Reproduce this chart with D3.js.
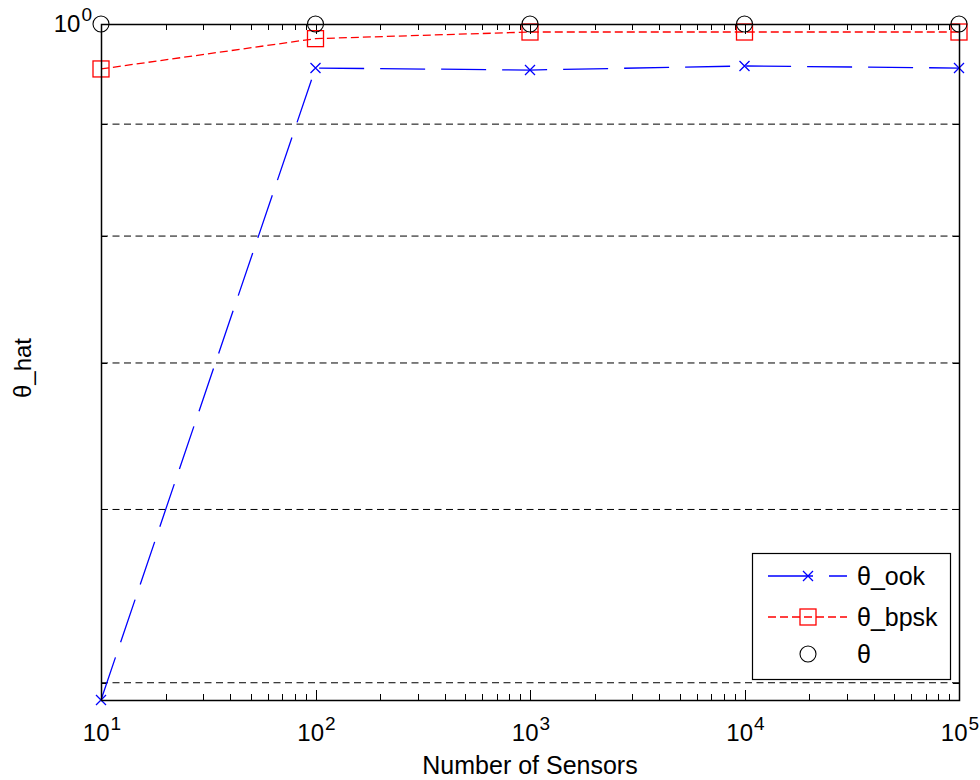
<!DOCTYPE html>
<html>
<head>
<meta charset="utf-8">
<script src="https://cdn.jsdelivr.net/npm/d3@7"></script>
<style>
  body { margin: 0; background: #fff; }
  text { font-family: "Liberation Sans", Arial, sans-serif; fill: #000; }
</style>
</head>
<body>
<div id="chart"></div>
<script>
// data
const sensors = [10, 100, 1000, 10000, 100000];
const thetaOok = [0.491, 0.9547, 0.9527, 0.9568, 0.9547];
const thetaBpsk = [0.9538, 0.9847, 0.9916, 0.9916, 0.9916];
const thetaTrue = [1, 1, 1, 1, 1];
const xTickExps = [1, 2, 3, 4, 5];
const yMinorTicks = [0.5, 0.6, 0.7, 0.8, 0.9];
const yMajorTicks = [1];
const legendNames = ["θ_ook", "θ_bpsk", "θ"];

const width = 980, height = 780;
const margin = { top: 24, right: 21, bottom: 80, left: 101 };

const svg = d3.select("#chart")
  .append("svg")
  .attr("width", width)
  .attr("height", height);

const x = d3.scaleLog()
  .domain([10, 100000])
  .range([margin.left, width - margin.right]);

const y = d3.scaleLog()
  .domain([0.491, 1])
  .range([height - margin.bottom, margin.top]);

const x0 = x.range()[0], x1 = x.range()[1];
const y0 = y.range()[0], y1 = y.range()[1];

// y minor grid (dashed)
svg.append("g")
  .selectAll("line")
  .data(yMinorTicks)
  .join("line")
  .attr("x1", x0).attr("x2", x1)
  .attr("y1", d => y(d)).attr("y2", d => y(d))
  .attr("stroke", "#000")
  .attr("stroke-width", 1)
  .attr("stroke-dasharray", "7,4.5");

// x ticks: decades and minor multiples, on bottom and top
const xMajor = xTickExps.map(e => Math.pow(10, e));
const xMinor = [];
xTickExps.slice(0, -1).forEach(e => {
  d3.range(2, 10).forEach(m => xMinor.push(m * Math.pow(10, e)));
});

const ticks = svg.append("g").attr("stroke", "#000").attr("stroke-width", 1);
[[xMajor, 10], [xMinor, 6]].forEach(([vals, len]) => {
  vals.forEach(v => {
    const px = Math.round(x(v)) + 0.5;
    ticks.append("line").attr("x1", px).attr("x2", px).attr("y1", y0).attr("y2", y0 - len);
    ticks.append("line").attr("x1", px).attr("x2", px).attr("y1", y1).attr("y2", y1 + len);
  });
});
yMinorTicks.forEach(v => {
  const py = Math.round(y(v)) + 0.5;
  ticks.append("line").attr("x1", x0).attr("x2", x0 + 6).attr("y1", py).attr("y2", py);
  ticks.append("line").attr("x1", x1).attr("x2", x1 - 6).attr("y1", py).attr("y2", py);
});

// x tick labels 10^n
xTickExps.forEach(e => {
  const t = svg.append("text")
    .attr("x", x(Math.pow(10, e)) + 1)
    .attr("y", 741)
    .attr("text-anchor", "middle")
    .style("font-size", "24px");
  t.append("tspan").text("10");
  t.append("tspan").attr("dy", -11).attr("dx", 1).style("font-size", "19px").text(e);
});

// y tick label 10^0
yMajorTicks.forEach(v => {
  const t = svg.append("text")
    .attr("x", x0 - 9)
    .attr("y", y(v) + 8)
    .attr("text-anchor", "end")
    .style("font-size", "24px");
  t.append("tspan").text("10");
  t.append("tspan").attr("dy", -11).attr("dx", 1).style("font-size", "19px").text(Math.round(Math.log10(v)));
});

// axis labels
svg.append("text")
  .attr("x", (x0 + x1) / 2)
  .attr("y", 774)
  .attr("text-anchor", "middle")
  .style("font-size", "25px")
  .text("Number of Sensors");

svg.append("text")
  .attr("transform", `translate(31, ${(y0 + y1) / 2 + 6}) rotate(-90)`)
  .attr("text-anchor", "middle")
  .style("font-size", "24px")
  .text("θ_hat");

// lines
const line = d3.line()
  .x(d => x(d[0]))
  .y(d => y(d[1]));

svg.append("path")
  .datum(d3.zip(sensors, thetaOok))
  .attr("fill", "none")
  .attr("stroke", "#0000ff")
  .attr("stroke-width", 1.3)
  .attr("stroke-dasharray", "45,16")
  .attr("d", line);

svg.append("path")
  .datum(d3.zip(sensors, thetaBpsk))
  .attr("fill", "none")
  .attr("stroke", "#ff0000")
  .attr("stroke-width", 1.3)
  .attr("stroke-dasharray", "8,4")
  .attr("d", line);

// marker helpers
function crossMarker(g, cx, cy) {
  const s = 5;
  g.append("path")
    .attr("d", `M${cx - s},${cy - s}L${cx + s},${cy + s}M${cx - s},${cy + s}L${cx + s},${cy - s}`)
    .attr("stroke", "#0000ff").attr("stroke-width", 1.3).attr("fill", "none");
}
function squareMarker(g, cx, cy) {
  g.append("rect")
    .attr("x", cx - 8).attr("y", cy - 8).attr("width", 16).attr("height", 16)
    .attr("stroke", "#ff0000").attr("stroke-width", 1.3).attr("fill", "none");
}
function circleMarker(g, cx, cy) {
  g.append("circle")
    .attr("cx", cx).attr("cy", cy).attr("r", 8)
    .attr("stroke", "#000").attr("stroke-width", 1.1).attr("fill", "none");
}

const marks = svg.append("g");
sensors.forEach((s, i) => {
  crossMarker(marks, x(s), y(thetaOok[i]));
  squareMarker(marks, x(s), y(thetaBpsk[i]));
  circleMarker(marks, x(s), y(thetaTrue[i]));
});

// axes box
svg.append("rect")
  .attr("x", x0 + 0.5).attr("y", y1 + 0.5)
  .attr("width", x1 - x0).attr("height", y0 - y1)
  .attr("fill", "none")
  .attr("stroke", "#000")
  .attr("stroke-width", 1.5);

// legend
const legend = svg.append("g");
legend.append("rect")
  .attr("x", 752.5).attr("y", 553.5)
  .attr("width", 198).attr("height", 126)
  .attr("fill", "#fff")
  .attr("stroke", "#000")
  .attr("stroke-width", 1.2);

const rowY = [576, 617, 654];
legend.append("line")
  .attr("x1", 768).attr("x2", 847).attr("y1", rowY[0]).attr("y2", rowY[0])
  .attr("stroke", "#0000ff").attr("stroke-width", 1.3).attr("stroke-dasharray", "45,16");
crossMarker(legend, 808, rowY[0]);
legend.append("line")
  .attr("x1", 768).attr("x2", 847).attr("y1", rowY[1]).attr("y2", rowY[1])
  .attr("stroke", "#ff0000").attr("stroke-width", 1.3).attr("stroke-dasharray", "8,4");
squareMarker(legend, 808, rowY[1]);
circleMarker(legend, 808, rowY[2]);

legendNames.forEach((n, i) => {
  legend.append("text")
    .attr("x", 857)
    .attr("y", rowY[i] + 9)
    .style("font-size", "25px")
    .text(n);
});
</script>
</body>
</html>
